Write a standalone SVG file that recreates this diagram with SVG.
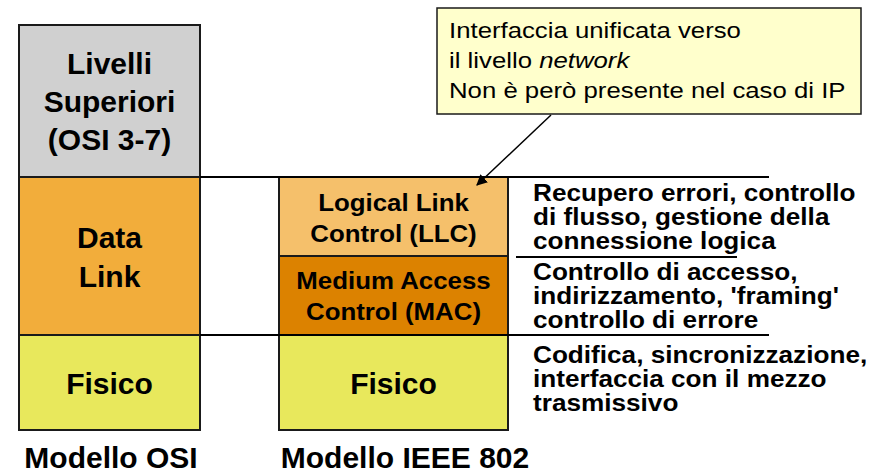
<svg xmlns="http://www.w3.org/2000/svg" width="887" height="474" viewBox="0 0 887 474">
<style>
.box{stroke:#1a1a1a;stroke-width:2}
.lbl{font-family:"Liberation Sans",Arial,sans-serif;font-weight:bold;fill:#000;text-anchor:middle}
.big{font-size:30px}
.mid{font-size:23.5px}
.desc{font-family:"Liberation Sans",Arial,sans-serif;font-weight:bold;font-size:24px;fill:#000}
.tip{font-family:"Liberation Sans",Arial,sans-serif;font-size:23px;fill:#000}
.ln{stroke:#000;stroke-width:2;fill:none}
</style>
<defs>
<marker id="ah" viewBox="0 0 10 10" refX="9" refY="5" markerWidth="11" markerHeight="11" orient="auto" markerUnits="userSpaceOnUse">
<path d="M0,0 L10,5 L0,10 z" fill="#000"/>
</marker>
</defs>
<rect width="887" height="474" fill="#fff"/>
<g id="osi-upper">
<rect class="box" x="19" y="25" width="181" height="152" fill="#d0d0d0"/>
<text class="lbl big" x="109.5" y="74">Livelli</text>
<text class="lbl big" x="109.5" y="112">Superiori</text>
<text class="lbl big" x="109.5" y="150">(OSI 3-7)</text>
</g>
<g id="osi-datalink">
<rect class="box" x="19" y="177" width="181" height="158" fill="#f2ad3b"/>
<text class="lbl big" x="109.5" y="248">Data</text>
<text class="lbl big" x="109.5" y="287">Link</text>
</g>
<g id="osi-fisico">
<rect class="box" x="19" y="335" width="181" height="95" fill="#e8e85c"/>
<text class="lbl big" x="109.5" y="394">Fisico</text>
</g>
<g id="ieee-llc">
<rect class="box" x="279" y="177" width="229" height="79" fill="#f5c06b"/>
<g transform="translate(393.5,0) scale(1.1,1)">
<text class="lbl mid" x="0" y="211">Logical Link</text>
<text class="lbl mid" x="0" y="242">Control (LLC)</text>
</g>
</g>
<g id="ieee-mac">
<rect class="box" x="279" y="256" width="229" height="79" fill="#dc8200"/>
<g transform="translate(393.5,0) scale(1.1,1)">
<text class="lbl mid" x="0" y="289">Medium Access</text>
<text class="lbl mid" x="0" y="320">Control (MAC)</text>
</g>
</g>
<g id="ieee-fisico">
<rect class="box" x="279" y="335" width="229" height="95" fill="#e8e85c"/>
<text class="lbl big" x="393.5" y="394">Fisico</text>
</g>
<g id="desc-llc" transform="translate(533,0) scale(1.09,1)">
<text class="desc" x="0" y="201">Recupero errori, controllo</text>
<text class="desc" x="0" y="225">di flusso, gestione della</text>
<text class="desc" x="0" y="249">connessione logica</text>
</g>
<g id="desc-mac" transform="translate(533,0) scale(1.09,1)">
<text class="desc" x="0" y="280">Controllo di accesso,</text>
<text class="desc" x="0" y="304">indirizzamento, 'framing'</text>
<text class="desc" x="0" y="328">controllo di errore</text>
</g>
<g id="desc-fisico" transform="translate(533,0) scale(1.09,1)">
<text class="desc" x="0" y="363">Codifica, sincronizzazione,</text>
<text class="desc" x="0" y="387">interfaccia con il mezzo</text>
<text class="desc" x="0" y="411">trasmissivo</text>
</g>
<g id="note">
<rect x="437" y="8" width="424" height="106" fill="#ffffcc" stroke="#1a1a1a" stroke-width="1.5"/>
<g transform="translate(449,0) scale(1.12,1)">
<text class="tip" x="0" y="38">Interfaccia unificata verso</text>
<text class="tip" x="0" y="68">il livello <tspan font-style="italic">network</tspan></text>
<text class="tip" x="0" y="98">Non è però presente nel caso di IP</text>
</g>
</g>
<g id="caption-osi">
<text class="lbl big" x="111" y="468">Modello OSI</text>
</g>
<g id="caption-ieee">
<text class="lbl big" x="405" y="468">Modello IEEE 802</text>
</g>
<g id="connectors">
<line class="ln" x1="200" y1="177" x2="769" y2="177"/>
<line class="ln" x1="516" y1="257" x2="737" y2="257"/>
<line class="ln" x1="200" y1="335" x2="769" y2="335"/>
<line x1="551" y1="115" x2="477" y2="185" stroke="#000" stroke-width="1.5" marker-end="url(#ah)"/>
</g>
</svg>
